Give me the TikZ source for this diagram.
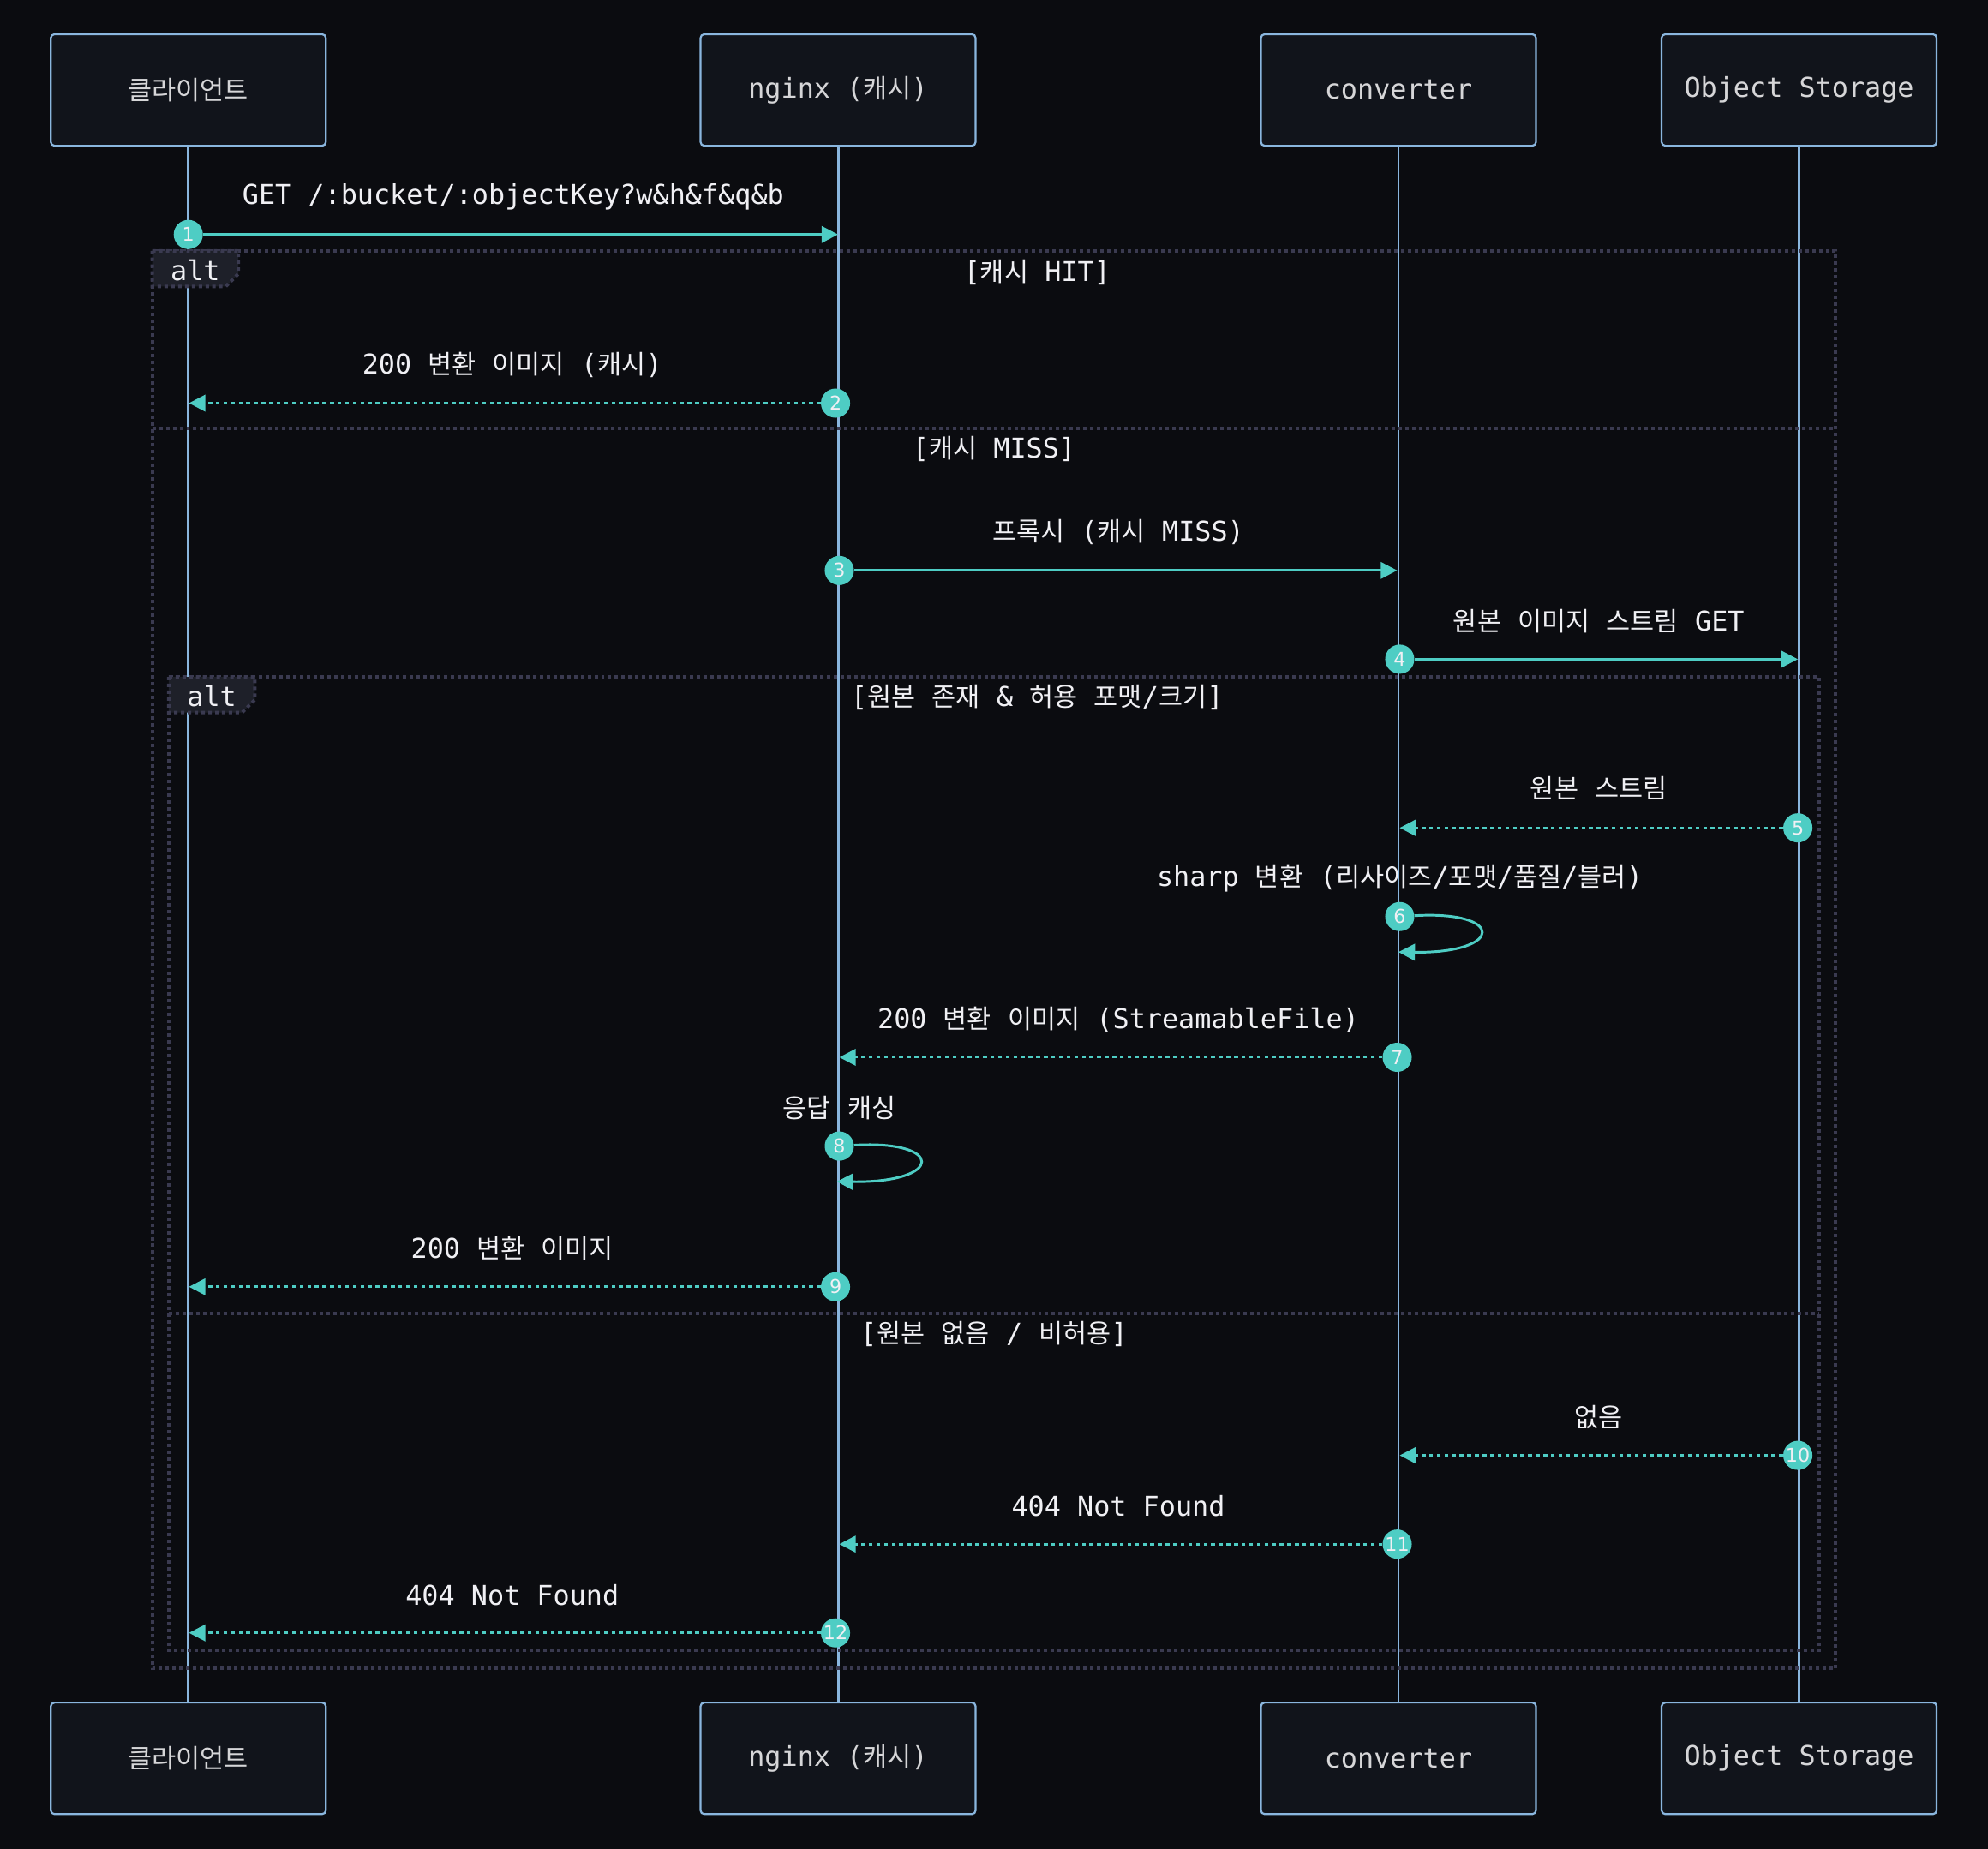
\documentclass[tikz,border=0pt]{standalone}
\usepackage{fontspec}
\setmainfont{DejaVu Sans Mono}
\newfontfamily\hangul{Noto Sans CJK KR}[Scale=0.96]
\newfontfamily\numfont{DejaVu Sans}
\usetikzlibrary{arrows.meta,calc}
\definecolor{SeqBack}{HTML}{0B0C10}
\definecolor{SeqBox}{HTML}{11141B}
\definecolor{SeqLine}{HTML}{8AB6DE}
\definecolor{SeqTeal}{HTML}{4ECDC4}
\definecolor{SeqFrame}{HTML}{3A3A50}
\definecolor{SeqTab}{HTML}{1E2029}
\definecolor{SeqText}{HTML}{F0F0F4}
\definecolor{SeqGrey}{HTML}{D6D6D8}

% hangul runs switch to the CJK font
\XeTeXinterchartokenstate=1
\newXeTeXintercharclass\HangulClass
\count255="AC00
\loop
  \XeTeXcharclass\count255=\HangulClass
  \ifnum\count255<"D7A3 \advance\count255 by 1 \repeat
\XeTeXinterchartoks 0 \HangulClass = {\begingroup\hangul}
\XeTeXinterchartoks 4095 \HangulClass = {\begingroup\hangul}
\XeTeXinterchartoks \HangulClass 0 = {\endgroup}
\XeTeXinterchartoks \HangulClass 4095 = {\endgroup}

\begin{document}
\begin{tikzpicture}[x=1pt,y=-1pt,
  actor/.style={draw=SeqLine,fill=SeqBox,line width=1.5pt,rounded corners=3pt,
    minimum width=217pt,minimum height=88pt,text=SeqGrey,font=\fontsize{21.5}{26}\selectfont},
  lifeline/.style={draw=SeqLine,line width=2pt},
  msg/.style={draw=SeqTeal,line width=2pt,-{Triangle[length=13pt,width=13pt]}},
  reply/.style={msg,dash pattern=on 3pt off 3pt},
  num/.style={circle,fill=SeqTeal,minimum size=23pt,inner sep=0pt,text=SeqText,
    font=\numfont\fontsize{15}{15}\selectfont},
  lbl/.style={text=SeqText,font=\fontsize{21.5}{26}\selectfont},
  frame/.style={draw=SeqFrame,line width=2.7pt,dash pattern=on 2.7pt off 2.7pt},
  tab/.style={frame,fill=SeqTab}]
  \useasboundingbox (0,0) rectangle (1568,1458.5);
  \fill[SeqBack] (0,0) rectangle (1568,1458.5);

  \foreach \x/\name/\txt in {148.5/cli/클라이언트,661/ngx/nginx (캐시),1103/conv/converter,1419/obj/Object Storage} {
    \node[actor] (\name) at (\x,71) {\txt};
    \node[actor] (\name2) at (\x,1387) {\txt};
    \draw[lifeline] (\name) -- (\name2);
  }

  % alt frames
  \draw[frame] (120,198) rectangle (1448,1316);
  \draw[frame] (120,338) -- (1448,338);
  \draw[tab] (120,198) -- (188,198) -- (188,216) -- (178,226) -- (120,226) -- cycle;
  \node[lbl] (alt1) at (154,213) {alt};
  \node[lbl] (hit) at (818,215) {[캐시 HIT]};
  \node[lbl] (miss) at (784,354) {[캐시 MISS]};

  \draw[frame] (133,534) rectangle (1435,1302);
  \draw[frame] (133,1036) -- (1435,1036);
  \draw[tab] (133,534) -- (201,534) -- (201,552) -- (191,562) -- (133,562) -- cycle;
  \node[lbl] (alt2) at (167,549) {alt};
  \node[lbl] (found) at (818,550) {[원본 존재 \& 허용 포맷/크기]};
  \node[lbl] (none) at (784,1052) {[원본 없음 / 비허용]};

  % messages
  \node[num] (n1) at (148.5,185) {1};
  \coordinate (e1) at (661,185);
  \draw[msg] (n1) -- (e1);
  \node[lbl] (l1) at ($(n1)!0.5!(e1)+(0,-30)$) {GET /:bucket/:objectKey?w\&h\&f\&q\&b};

  \node[num] (n2) at (659,318) {2};
  \coordinate (e2) at (149,318);
  \draw[reply] (n2) -- (e2);
  \node[lbl] (l2) at ($(n2)!0.5!(e2)+(0,-30)$) {200 변환 이미지 (캐시)};

  \node[num] (n3) at (662,450) {3};
  \coordinate (e3) at (1102,450);
  \draw[msg] (n3) -- (e3);
  \node[lbl] (l3) at ($(n3)!0.5!(e3)+(0,-30)$) {프록시 (캐시 MISS)};

  \node[num] (n4) at (1104,520) {4};
  \coordinate (e4) at (1418,520);
  \draw[msg] (n4) -- (e4);
  \node[lbl] (l4) at ($(n4)!0.5!(e4)+(0,-30)$) {원본 이미지 스트림 GET};

  \node[num] (n5) at (1418,653) {5};
  \coordinate (e5) at (1104,653);
  \draw[reply] (n5) -- (e5);
  \node[lbl] (l5) at ($(n5)!0.5!(e5)+(0,-31)$) {원본 스트림};

  \node[num] (n6) at (1104,723) {6};
  \coordinate (e6) at (1103,751);
  \draw[msg] (n6) .. controls (1187,718) and (1187,752) .. (e6);
  \node[lbl] (l6) at ($(n6)+(0,-30)$) {sharp 변환 (리사이즈/포맷/품질/블러)};

  \node[num] (n7) at (1102,834) {7};
  \coordinate (e7) at (662,834);
  \draw[reply] (n7) -- (e7);
  \node[lbl] (l7) at ($(n7)!0.5!(e7)+(0,-30)$) {200 변환 이미지 (StreamableFile)};

  \node[num] (n8) at (662,904) {8};
  \coordinate (e8) at (660,932);
  \draw[msg] (n8) .. controls (745,899) and (745,933) .. (e8);
  \node[lbl] (l8) at ($(n8)+(0,-30)$) {응답 캐싱};

  \node[num] (n9) at (659,1015) {9};
  \coordinate (e9) at (149,1015);
  \draw[reply] (n9) -- (e9);
  \node[lbl] (l9) at ($(n9)!0.5!(e9)+(0,-30)$) {200 변환 이미지};

  \node[num] (n10) at (1418,1148) {10};
  \coordinate (e10) at (1104,1148);
  \draw[reply] (n10) -- (e10);
  \node[lbl] (l10) at ($(n10)!0.5!(e10)+(0,-30)$) {없음};

  \node[num] (n11) at (1102,1218) {11};
  \coordinate (e11) at (662,1218);
  \draw[reply] (n11) -- (e11);
  \node[lbl] (l11) at ($(n11)!0.5!(e11)+(0,-30)$) {404 Not Found};

  \node[num] (n12) at (659,1288) {12};
  \coordinate (e12) at (149,1288);
  \draw[reply] (n12) -- (e12);
  \node[lbl] (l12) at ($(n12)!0.5!(e12)+(0,-30)$) {404 Not Found};
\end{tikzpicture}
\end{document}
